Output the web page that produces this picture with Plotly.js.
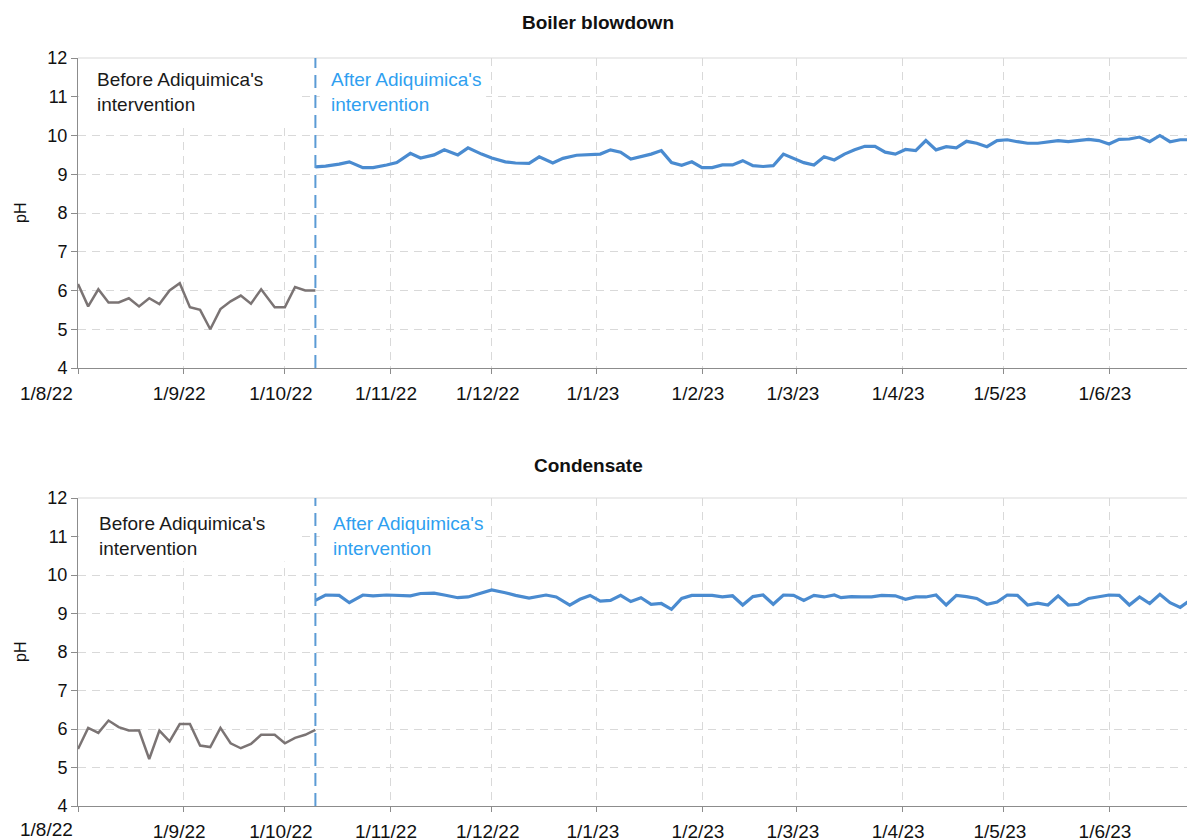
<!DOCTYPE html>
<html><head><meta charset="utf-8">
<script src="https://cdn.plot.ly/plotly-3.0.1.min.js"></script>
<style>html,body{margin:0;padding:0;background:#fff;} #chart{width:1187px;height:838px;}</style>
</head><body><div id="chart"></div>
<script>
// ---- data ----
const beforeDates = ["2022-08-01","2022-08-04","2022-08-07","2022-08-10","2022-08-13","2022-08-16","2022-08-19","2022-08-22","2022-08-25","2022-08-28","2022-08-31","2022-09-03","2022-09-06","2022-09-09","2022-09-12","2022-09-15","2022-09-18","2022-09-21","2022-09-24","2022-09-28","2022-10-01","2022-10-04","2022-10-07","2022-10-10"];
const boilerBefore = [6.17,5.59,6.03,5.69,5.69,5.80,5.59,5.80,5.65,6.00,6.19,5.57,5.50,5.00,5.52,5.72,5.87,5.66,6.03,5.57,5.57,6.09,6.00,6.00];
const condBefore = [5.48,6.03,5.90,6.22,6.05,5.96,5.96,5.22,5.96,5.68,6.13,6.13,5.57,5.53,6.03,5.63,5.50,5.61,5.85,5.85,5.63,5.77,5.85,5.98];

const boilerAfterDates = ["2022-10-10","2022-10-13","2022-10-17","2022-10-20","2022-10-24","2022-10-27","2022-10-31",
"2022-11-03","2022-11-07","2022-11-10","2022-11-14","2022-11-17","2022-11-21","2022-11-24","2022-11-28",
"2022-12-01","2022-12-05","2022-12-08","2022-12-12","2022-12-15","2022-12-19","2022-12-22","2022-12-26","2022-12-29",
"2023-01-02","2023-01-05","2023-01-08","2023-01-11","2023-01-14","2023-01-17","2023-01-20","2023-01-23","2023-01-26","2023-01-29",
"2023-02-01","2023-02-04","2023-02-07","2023-02-10","2023-02-13","2023-02-16","2023-02-19","2023-02-22","2023-02-25","2023-02-28",
"2023-03-03","2023-03-06","2023-03-09","2023-03-12","2023-03-15","2023-03-18","2023-03-21","2023-03-24","2023-03-27","2023-03-30",
"2023-04-02","2023-04-05","2023-04-08","2023-04-11","2023-04-14","2023-04-17","2023-04-20","2023-04-23","2023-04-26","2023-04-29",
"2023-05-02","2023-05-05","2023-05-08","2023-05-11","2023-05-14","2023-05-17","2023-05-20","2023-05-23","2023-05-26","2023-05-29",
"2023-06-01","2023-06-04","2023-06-07","2023-06-10","2023-06-13","2023-06-16","2023-06-19","2023-06-22","2023-06-25"];
const boilerAfter = [9.19,9.21,9.26,9.32,9.17,9.17,9.24,
9.30,9.54,9.42,9.50,9.63,9.50,9.68,9.52,
9.42,9.32,9.29,9.28,9.45,9.29,9.41,9.49,9.50,
9.52,9.63,9.57,9.39,9.45,9.52,9.61,9.30,9.23,9.32,
9.17,9.17,9.24,9.24,9.35,9.22,9.20,9.22,9.52,9.41,
9.30,9.24,9.45,9.37,9.52,9.63,9.72,9.72,9.57,9.52,
9.64,9.61,9.87,9.63,9.71,9.68,9.85,9.80,9.71,9.87,
9.89,9.84,9.80,9.80,9.83,9.87,9.84,9.87,9.90,9.87,
9.78,9.90,9.91,9.96,9.84,10.00,9.84,9.89,9.89];

const condAfterDates = ["2022-10-10","2022-10-13","2022-10-17","2022-10-20","2022-10-24","2022-10-27","2022-10-31",
"2022-11-03","2022-11-07","2022-11-10","2022-11-14","2022-11-17","2022-11-21","2022-11-24","2022-11-28",
"2022-12-01","2022-12-05","2022-12-08","2022-12-12","2022-12-15","2022-12-17","2022-12-20","2022-12-24","2022-12-27","2022-12-30",
"2023-01-02","2023-01-05","2023-01-08","2023-01-11","2023-01-14","2023-01-17","2023-01-20","2023-01-23","2023-01-26","2023-01-29",
"2023-02-01","2023-02-04","2023-02-07","2023-02-10","2023-02-13","2023-02-16","2023-02-19","2023-02-22","2023-02-25","2023-02-28",
"2023-03-03","2023-03-06","2023-03-09","2023-03-12","2023-03-14","2023-03-17","2023-03-20","2023-03-23","2023-03-26","2023-03-30",
"2023-04-02","2023-04-05","2023-04-08","2023-04-11","2023-04-14","2023-04-17","2023-04-20","2023-04-23","2023-04-26","2023-04-29",
"2023-05-02","2023-05-05","2023-05-08","2023-05-11","2023-05-14","2023-05-17","2023-05-20","2023-05-23","2023-05-26","2023-05-29",
"2023-06-01","2023-06-04","2023-06-07","2023-06-10","2023-06-13","2023-06-16","2023-06-19","2023-06-22","2023-06-25"];
const condAfter = [9.34,9.48,9.47,9.28,9.48,9.46,9.48,
9.47,9.46,9.52,9.53,9.48,9.41,9.43,9.54,
9.61,9.54,9.47,9.40,9.46,9.48,9.43,9.22,9.37,9.47,
9.32,9.34,9.47,9.31,9.41,9.24,9.26,9.11,9.39,9.47,
9.47,9.47,9.43,9.46,9.22,9.44,9.48,9.24,9.48,9.47,
9.34,9.47,9.43,9.48,9.41,9.44,9.43,9.43,9.47,9.46,
9.37,9.43,9.43,9.48,9.22,9.47,9.44,9.39,9.24,9.30,
9.48,9.47,9.22,9.27,9.22,9.46,9.22,9.24,9.39,9.43,
9.48,9.47,9.22,9.43,9.26,9.50,9.28,9.16,9.35];

const tickDates = ["2022-08-01","2022-09-01","2022-10-01","2022-11-01","2022-12-01","2023-01-01","2023-02-01","2023-03-01","2023-04-01","2023-05-01","2023-06-01"];
const tickLabels = ["1/8/22","1/9/22","1/10/22","1/11/22","1/12/22","1/1/23","1/2/23","1/3/23","1/4/23","1/5/23","1/6/23"];
const interventionDate = "2022-10-10";
const chartTitles = ["Boiler blowdown","Condensate"];
const beforeText = "Before Adiquimica's<br>intervention";
const afterText = "After Adiquimica's<br>intervention";

// ---- styling ----
const FONT = "Liberation Sans, Arial, sans-serif";
const GRAY = "#7b7474", BLUE = "#4a8bd0", VLINE = "#5b9bd5", AFTERC = "#2f9ff0";
const GRID = "#d9d9d9", AXIS = "#8c8c8c";

function xax(anchor){
  return {type:"date", range:["2022-08-01","2023-06-24"], anchor:anchor,
    tickmode:"array", tickvals:tickDates, ticktext:tickLabels.map((t,i)=>i===0?"":t),
    showgrid:true, gridcolor:GRID, griddash:"8px,6px", gridwidth:1,
    showline:true, linecolor:AXIS, linewidth:1, ticks:"outside", ticklen:5, tickcolor:AXIS,
    tickfont:{family:FONT,size:19,color:"#111"}, zeroline:false, ticklabelshift:-4, ticklabelstandoff:3, fixedrange:true};
}
function yax(domain, anchor){
  return {domain:domain, range:[4,12], dtick:1, tick0:4, anchor:anchor,
    showgrid:true, gridcolor:GRID, griddash:"8px,6px", gridwidth:1,
    showline:true, linecolor:AXIS, linewidth:1, ticks:"outside", ticklen:6, tickcolor:AXIS,
    tickfont:{family:FONT,size:18,color:"#111"}, zeroline:false, fixedrange:true};
}

const traces = [
  {x:beforeDates, y:boilerBefore, xaxis:"x", yaxis:"y", mode:"lines", line:{color:GRAY,width:2.5}, hoverinfo:"skip"},
  {x:boilerAfterDates, y:boilerAfter, xaxis:"x", yaxis:"y", mode:"lines", line:{color:BLUE,width:3.2}, hoverinfo:"skip"},
  {x:beforeDates, y:condBefore, xaxis:"x2", yaxis:"y2", mode:"lines", line:{color:GRAY,width:2.5}, hoverinfo:"skip"},
  {x:condAfterDates, y:condAfter, xaxis:"x2", yaxis:"y2", mode:"lines", line:{color:BLUE,width:3.2}, hoverinfo:"skip"}
];

const shapes = [];
const annotations = [];
[["x","y"],["x2","y2"]].forEach(([xa,ya],i)=>{
  // white boxes behind the notes (hide gridlines); no data lies there
  shapes.push({type:"rect", xref:xa+" domain", yref:ya, x0:0.001, x1:0.2, y0:10.35, y1:12, fillcolor:"#ffffff", line:{width:0}, layer:"above"});
  shapes.push({type:"rect", xref:xa+" domain", yref:ya, x0:0.218, x1:0.368, y0:10.35, y1:12, fillcolor:"#ffffff", line:{width:0}, layer:"above"});
  // top border line
  shapes.push({type:"line", xref:xa+" domain", yref:ya+" domain", x0:0, x1:1, y0:1, y1:1, line:{color:GRID,width:1}, layer:"above"});
  // intervention line
  shapes.push({type:"line", xref:xa, yref:ya+" domain", x0:interventionDate, x1:interventionDate, y0:0, y1:1, line:{color:VLINE,width:2,dash:"13px,7px"}, layer:"above"});
  annotations.push({xref:xa+" domain", yref:ya+" domain", x:i===0?0.0153:0.017, y:i===0?0.97:0.957, xanchor:"left", yanchor:"top", align:"left",
    text:beforeText, showarrow:false, font:{family:FONT,size:19,color:"#1a1a1a"}});
  annotations.push({xref:xa+" domain", yref:ya+" domain", x:i===0?0.226:0.228, y:i===0?0.97:0.957, xanchor:"left", yanchor:"top", align:"left",
    text:afterText, showarrow:false, font:{family:FONT,size:19,color:AFTERC}});
});
// titles
annotations.push({xref:"paper", yref:"paper", x:0.469, y:(806-22)/748, xanchor:"center", yanchor:"middle", text:"<b>"+chartTitles[0]+"</b>", showarrow:false, font:{family:FONT,size:19,color:"#111"}});
annotations.push({xref:"paper", yref:"paper", x:0.46, y:(806-465)/748, xanchor:"center", yanchor:"middle", text:"<b>"+chartTitles[1]+"</b>", showarrow:false, font:{family:FONT,size:19,color:"#111"}});
// pH titles
annotations.push({xref:"paper", yref:"paper", x:-0.0523, y:(806-213)/748, xanchor:"center", yanchor:"middle", textangle:-90, text:"pH", showarrow:false, font:{family:FONT,size:16,color:"#111"}});
annotations.push({xref:"paper", yref:"paper", x:-0.0523, y:(806-652)/748, xanchor:"center", yanchor:"middle", textangle:-90, text:"pH", showarrow:false, font:{family:FONT,size:16,color:"#111"}});
// first date label (sits left of the axis start)
annotations.push({xref:"paper", yref:"paper", x:-0.003, y:(806-393)/748, xanchor:"right", yanchor:"middle", text:tickLabels[0], showarrow:false, font:{family:FONT,size:19,color:"#111"}});
annotations.push({xref:"paper", yref:"paper", x:-0.003, y:(806-830)/748, xanchor:"right", yanchor:"middle", text:tickLabels[0], showarrow:false, font:{family:FONT,size:19,color:"#111"}});

const layout = {
  width:1187, height:838, margin:{l:78, r:0, t:58, b:32},
  paper_bgcolor:"#fff", plot_bgcolor:"#fff", showlegend:false,
  xaxis:xax("y"), xaxis2:xax("y2"),
  yaxis:yax([(806-368)/748,1],"x"), yaxis2:yax([0,(806-498)/748],"x2"),
  shapes:shapes, annotations:annotations
};
Plotly.newPlot("chart", traces, layout, {displayModeBar:false, staticPlot:true});
</script>
</body></html>
